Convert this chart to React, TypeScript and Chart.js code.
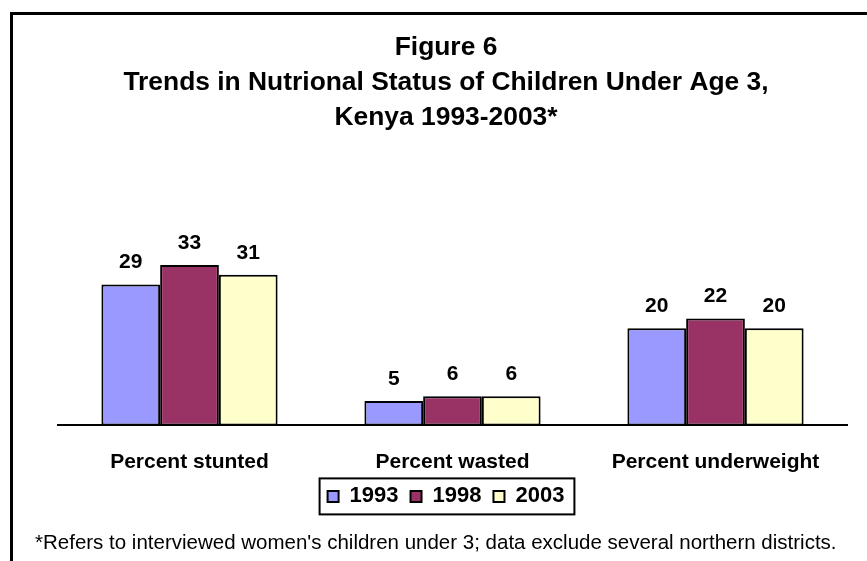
import React, { useEffect, useRef } from "react";
import { Chart, registerables } from "chart.js";

Chart.register(...registerables);

const categories = ["Percent stunted", "Percent wasted", "Percent underweight"];
const seriesLabels = ["1993", "1998", "2003"];
const values1993 = [29, 5, 20];
const values1998 = [33, 6, 22];
const values2003 = [31, 6, 20];
const seriesColors = ["#9999FF", "#993366", "#FFFFCC"];
const titleLines = [
  "Figure 6",
  "Trends in Nutrional Status of Children Under Age 3,",
  "Kenya 1993-2003*",
];
const footnote =
  "*Refers to interviewed women's children under 3; data exclude several northern districts.";

const FONT = "'Liberation Sans', Arial, Helvetica, sans-serif";

const valueLabelPlugin = {
  id: "valueLabels",
  afterDatasetsDraw(chart: any) {
    const ctx = chart.ctx;
    ctx.save();
    ctx.font = `bold 21px ${FONT}`;
    ctx.fillStyle = "#000";
    ctx.textAlign = "center";
    ctx.textBaseline = "alphabetic";
    chart.data.datasets.forEach((ds: any, i: number) => {
      const meta = chart.getDatasetMeta(i);
      meta.data.forEach((el: any, j: number) => {
        ctx.fillText(String(ds.data[j]), el.x, el.y - 16);
      });
    });
    ctx.restore();
  },
};

const legendFramePlugin = {
  id: "legendFrame",
  afterDraw(chart: any) {
    const lg = chart.legend;
    if (!lg || !lg.legendHitBoxes || !lg.legendHitBoxes.length) return;
    const boxes = lg.legendHitBoxes;
    let l = Infinity, r = -Infinity, t = Infinity, b = -Infinity;
    boxes.forEach((h: any) => {
      l = Math.min(l, h.left);
      r = Math.max(r, h.left + h.width);
      t = Math.min(t, h.top);
      b = Math.max(b, h.top + h.height);
    });
    const ctx = chart.ctx;
    ctx.save();
    ctx.strokeStyle = "#000";
    ctx.lineWidth = 2;
    ctx.strokeRect(l - 8, t - 7, r - l + 18, b - t + 14);
    ctx.restore();
  },
};

export default function App() {
  const canvasRef = useRef<HTMLCanvasElement | null>(null);

  useEffect(() => {
    if (!canvasRef.current) return;
    const datasets = [values1993, values1998, values2003].map((vals, i) => ({
      label: seriesLabels[i],
      data: vals,
      backgroundColor: seriesColors[i],
      borderColor: "#000",
      borderWidth: 2,
      borderSkipped: false as const,
    }));
    const chart = new Chart(canvasRef.current, {
      type: "bar",
      data: { labels: categories, datasets },
      plugins: [valueLabelPlugin, legendFramePlugin],
      options: {
        animation: false,
        responsive: false,
        devicePixelRatio: 1,
        layout: { padding: { left: 35, right: 10, top: 14, bottom: 0 } },
        datasets: {
          bar: { categoryPercentage: 0.67, barPercentage: 1.0 },
        },
        scales: {
          x: {
            grid: { display: false, drawTicks: false },
            border: { display: true, color: "#000", width: 2 },
            ticks: {
              color: "#000",
              font: { family: FONT, size: 21, weight: "bold" },
              padding: 24,
              maxRotation: 0,
              autoSkip: false,
            },
            afterFit(scale: any) {
              scale.height = 48;
            },
          },
          y: {
            min: 0,
            max: 40,
            grid: { display: false, drawTicks: false },
            border: { display: false },
            ticks: { display: false },
            afterFit(scale: any) {
              scale.width = 23;
            },
          },
          yRight: {
            type: "linear",
            position: "right",
            grid: { display: false, drawTicks: false },
            border: { display: false },
            ticks: { display: false },
            afterFit(scale: any) {
              scale.width = 10;
            },
          },
        },
        plugins: {
          title: {
            display: true,
            text: titleLines,
            color: "#000",
            font: { family: FONT, size: 26.4, weight: "bold", lineHeight: 35 / 26.4 },
            padding: { top: 16, bottom: 96 },
          },
          subtitle: {
            display: true,
            position: "bottom",
            align: "start",
            text: footnote,
            color: "#000",
            font: { family: FONT, size: 20.5, weight: "normal", lineHeight: 1.2 },
            padding: { top: 14, bottom: 5 },
          },
          legend: {
            display: true,
            position: "bottom",
            labels: {
              boxWidth: 11,
              boxHeight: 11,
              padding: 12,
              color: "#000",
              font: { family: FONT, size: 22, weight: "bold" },
            },
          },
          tooltip: { enabled: false },
        },
      },
    } as any);
    return () => chart.destroy();
  }, []);

  return (
    <div
      style={{
        position: "fixed",
        left: 0,
        top: 0,
        width: 867,
        height: 561,
        overflow: "hidden",
        background: "#fff",
      }}
    >
      <canvas
        ref={canvasRef}
        width={867}
        height={561}
        style={{ position: "absolute", left: 0, top: 0, width: 867, height: 561 }}
      />
      <div
        style={{
          position: "absolute",
          left: 10,
          top: 12,
          width: 1000,
          height: 1000,
          borderLeft: "3px solid #000",
          borderTop: "3px solid #000",
          pointerEvents: "none",
        }}
      />
    </div>
  );
}
